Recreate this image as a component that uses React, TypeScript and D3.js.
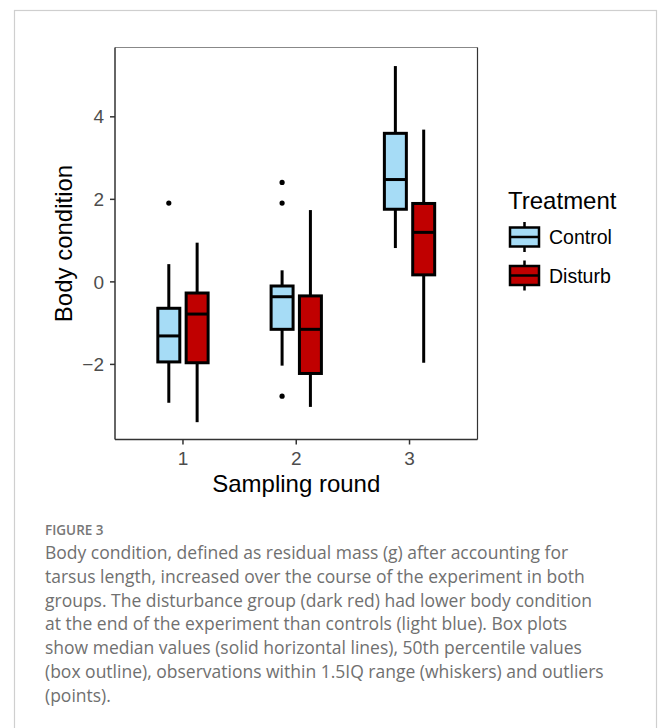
import React from 'react';
import * as d3 from 'd3';

// sampling rounds and treatments
const rounds = [1, 2, 3];
const treatments = ['Control', 'Disturb'];
const fills = ['#a6dcf6', '#c00000'];

// box stats per treatment, one entry per round: [lower whisker, Q1, median, Q3, upper whisker]
const controlStats = [
  [-2.93, -1.94, -1.31, -0.64, 0.43],
  [-2.03, -1.15, -0.36, -0.1, 0.28],
  [0.82, 1.76, 2.48, 3.6, 5.23],
];
const disturbStats = [
  [-3.4, -1.96, -0.78, -0.27, 0.95],
  [-3.03, -2.22, -1.15, -0.34, 1.74],
  [-1.96, 0.17, 1.2, 1.9, 3.69],
];
// outliers per treatment, one array per round
const controlOutliers = [[1.91], [2.41, 1.91, -2.77], []];
const disturbOutliers = [[], [], []];

const yTicks = [-2, 0, 2, 4];

const captionLines = [
  'Body condition, defined as residual mass (g) after accounting for',
  'tarsus length, increased over the course of the experiment in both',
  'groups. The disturbance group (dark red) had lower body condition',
  'at the end of the experiment than controls (light blue). Box plots',
  'show median values (solid horizontal lines), 50th percentile values',
  '(box outline), observations within 1.5IQ range (whiskers) and outliers',
  '(points).',
];

const W = 659, H = 728;
const panel = { left: 115, right: 477.5, top: 47.5, bottom: 439.5 };
const chartFont = '"Liberation Sans", Arial, sans-serif';
const captionFont = '"Open Sans", Lato, sans-serif';

export default function App() {
  const x = d3.scaleLinear().domain([0.4, 3.6]).range([panel.left, panel.right]);
  const y = d3.scaleLinear().domain([-3.82, 5.68]).range([panel.bottom, panel.top]);
  const dodge = 0.125;
  const halfW = x(0.097) - x(0);
  const allStats = [controlStats, disturbStats];
  const allOutliers = [controlOutliers, disturbOutliers];
  const fmt = (v: number) => (v < 0 ? '\u2212' + Math.abs(v) : String(v));

  return (
    <svg width={W} height={H} style={{ position: 'absolute', left: 0, top: 0, background: '#fff' }}>
      <rect x={14.5} y={10.5} width={642} height={H + 20} fill="none" stroke="#cfcfcf" strokeWidth={1.2} />

      {/* panel */}
      <line x1={panel.left} x2={panel.right} y1={panel.top} y2={panel.top} stroke="#888" strokeWidth={1.2} />
      <line x1={panel.right} x2={panel.right} y1={panel.top} y2={panel.bottom} stroke="#333" strokeWidth={1.2} />
      <line x1={panel.left} x2={panel.left} y1={panel.top} y2={panel.bottom} stroke="#333" strokeWidth={1.5} />
      <line x1={panel.left} x2={panel.right} y1={panel.bottom} y2={panel.bottom} stroke="#333" strokeWidth={1.5} />

      {/* y axis */}
      {yTicks.map(t => (
        <g key={'y' + t}>
          <line x1={panel.left - 5} x2={panel.left} y1={y(t)} y2={y(t)} stroke="#333" strokeWidth={1.5} />
          <text x={panel.left - 11} y={y(t)} dy="0.35em" textAnchor="end" fontSize={19} fill="#4d4d4d" fontFamily={chartFont}>
            {fmt(t)}
          </text>
        </g>
      ))}
      {/* x axis */}
      {rounds.map(r => (
        <g key={'x' + r}>
          <line x1={x(r)} x2={x(r)} y1={panel.bottom} y2={panel.bottom + 5} stroke="#333" strokeWidth={1.5} />
          <text x={x(r)} y={465} textAnchor="middle" fontSize={19} fill="#4d4d4d" fontFamily={chartFont}>
            {r}
          </text>
        </g>
      ))}
      <text x={x(2)} y={492} textAnchor="middle" fontSize={24} fill="#000" fontFamily={chartFont}>Sampling round</text>
      <text transform={`translate(72,${(panel.top + panel.bottom) / 2}) rotate(-90)`} textAnchor="middle" fontSize={24} fill="#000" fontFamily={chartFont}>
        Body condition
      </text>

      {/* boxes */}
      {treatments.map((tr, ti) =>
        rounds.map((r, ri) => {
          const [lo, q1, med, q3, hi] = allStats[ti][ri];
          const cx = x(r + (ti === 0 ? -dodge : dodge));
          return (
            <g key={tr + r}>
              <line x1={cx} x2={cx} y1={y(hi)} y2={y(q3)} stroke="#000" strokeWidth={3} />
              <line x1={cx} x2={cx} y1={y(q1)} y2={y(lo)} stroke="#000" strokeWidth={3} />
              <rect x={cx - halfW} y={y(q3)} width={halfW * 2} height={y(q1) - y(q3)} fill={fills[ti]} stroke="#000" strokeWidth={3} />
              <line x1={cx - halfW} x2={cx + halfW} y1={y(med)} y2={y(med)} stroke="#000" strokeWidth={3} />
              {allOutliers[ti][ri].map((o, oi) => (
                <circle key={oi} cx={cx} cy={y(o)} r={2.6} fill="#000" />
              ))}
            </g>
          );
        })
      )}

      {/* legend */}
      <text x={508} y={209} fontSize={24} fill="#000" fontFamily={chartFont}>Treatment</text>
      {treatments.map((tr, ti) => {
        const cy = 237 + ti * 38.5;
        return (
          <g key={'leg' + tr}>
            <line x1={524.5} x2={524.5} y1={cy - 15} y2={cy + 15} stroke="#000" strokeWidth={2.5} />
            <rect x={510} y={cy - 9.5} width={29} height={19} fill={fills[ti]} stroke="#000" strokeWidth={2.5} />
            <line x1={510} x2={539} y1={cy} y2={cy} stroke="#000" strokeWidth={2.5} />
            <text x={549} y={cy} dy="0.36em" fontSize={19.5} fill="#000" fontFamily={chartFont}>{tr}</text>
          </g>
        );
      })}

      {/* caption */}
      <text x={45} y={535} fontSize={13.5} fontWeight={600} fill="#777" fontFamily={captionFont}>
        FIGURE 3
      </text>
      {captionLines.map((l, i) => (
        <text key={i} x={45} y={559 + i * 23.8} fontSize={17.5} fill="#707070" fontFamily={captionFont}>
          {l}
        </text>
      ))}
    </svg>
  );
}
